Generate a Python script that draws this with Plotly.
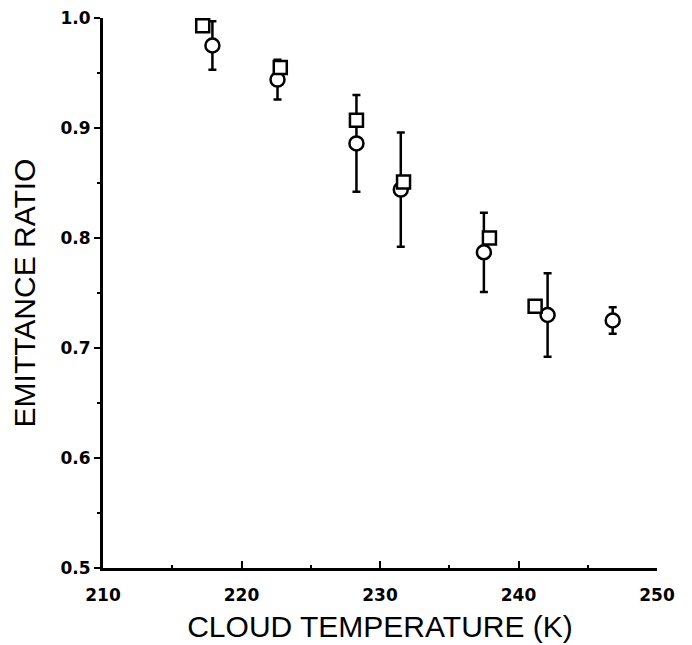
import plotly.graph_objects as go

# Series: squares (no error bars)
sq_temp = [217.2, 222.8, 228.3, 231.7, 237.9, 241.2]
sq_ratio = [0.993, 0.955, 0.907, 0.851, 0.800, 0.738]

# Series: circles with error bars
ci_temp = [217.9, 222.6, 228.3, 231.5, 237.5, 242.1, 246.8]
ci_ratio = [0.975, 0.944, 0.886, 0.844, 0.787, 0.730, 0.725]
ci_err = [0.022, 0.018, 0.044, 0.052, 0.036, 0.038, 0.012]

x_ticks = [210, 220, 230, 240, 250]
y_ticks = [0.5, 0.6, 0.7, 0.8, 0.9, 1.0]

fig = go.Figure()
fig.add_trace(go.Scatter(
    x=ci_temp, y=ci_ratio, mode="markers",
    marker=dict(symbol="circle", size=14, color="white",
                line=dict(color="black", width=2.5)),
    error_y=dict(type="data", array=ci_err, visible=True,
                 color="black", thickness=2.5, width=4),
    showlegend=False, cliponaxis=False,
))
fig.add_trace(go.Scatter(
    x=sq_temp, y=sq_ratio, mode="markers",
    marker=dict(symbol="square", size=13, color="white",
                line=dict(color="black", width=2.5)),
    showlegend=False, cliponaxis=False,
))

tickfont = dict(family="DejaVu Sans", size=17, color="black", weight="bold")
titlefont = dict(family="Liberation Sans, Arial", size=30, color="black")

fig.update_layout(
    width=692, height=645,
    margin=dict(l=95, r=43, t=10, b=85, autoexpand=False),
    paper_bgcolor="white", plot_bgcolor="white",
    xaxis=dict(
        range=[210, 250], tickvals=x_ticks, ticktext=[str(v) for v in x_ticks],
        automargin=False, ticklabeloverflow="allow",
        showgrid=False, zeroline=False, showline=True, linecolor="black", linewidth=3,
        ticks="inside", ticklen=7, tickwidth=2, tickcolor="black",
        minor=dict(dtick=5, ticks="inside", ticklen=3, tickwidth=2, tickcolor="black"),
        tickfont=tickfont, ticklabelstandoff=10,
        title=dict(text="CLOUD TEMPERATURE (K)", font=titlefont, standoff=12),
    ),
    yaxis=dict(
        range=[0.5, 1.0], tickvals=y_ticks, tickformat=".1f",
        automargin=False, ticklabeloverflow="allow",
        showgrid=False, zeroline=False, showline=True, linecolor="black", linewidth=3,
        ticks="outside", ticklen=6, tickwidth=2, tickcolor="black",
        minor=dict(dtick=0.05, ticks="outside", ticklen=3, tickwidth=2, tickcolor="black"),
        tickfont=tickfont,
        title=dict(text="EMITTANCE RATIO", font=titlefont, standoff=17),
    ),
)

fig.write_html("out.html")
